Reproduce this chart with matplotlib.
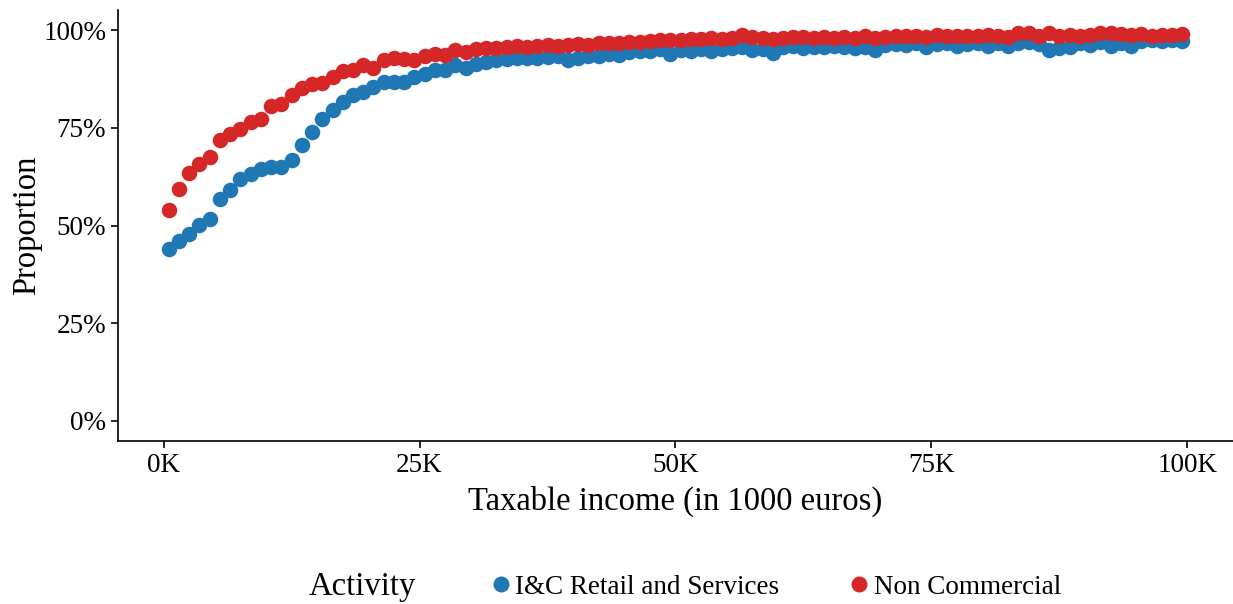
import numpy as np
import matplotlib
matplotlib.use("Agg")
import matplotlib.pyplot as plt
from matplotlib.ticker import FuncFormatter
from matplotlib.lines import Line2D

plt.rcParams['font.family'] = ['Liberation Serif', 'DejaVu Serif']

# income bins (in 1000 euros), bin centres
income = np.arange(100) + 0.5

# share per bin, in percent
retail = [43.9, 46.1, 47.8, 50.1, 51.7, 56.7, 59.1, 61.8, 63.1, 64.4,
          64.9, 65.0, 66.9, 70.6, 73.9, 77.2, 79.7, 81.7, 83.4, 84.1,
          85.5, 86.8, 86.7, 86.8, 87.9, 88.7, 89.8, 89.8, 91.0, 90.4,
          91.4, 91.8, 92.4, 92.7, 92.9, 93.0, 92.8, 93.2, 93.4, 92.3,
          93.0, 93.4, 93.5, 94.0, 93.7, 94.3, 94.6, 94.8, 95.2, 93.9,
          95.0, 94.6, 95.1, 94.8, 95.2, 95.4, 95.6, 95.0, 95.3, 94.1,
          95.6, 95.9, 95.5, 95.7, 95.8, 95.9, 95.6, 95.4, 95.8, 94.9,
          96.2, 96.5, 96.3, 96.6, 95.8, 96.4, 96.6, 95.9, 96.5, 96.7,
          96.0, 96.8, 95.9, 96.6, 96.9, 96.5, 95.0, 95.5, 95.8, 96.6,
          96.3, 96.9, 95.9, 96.7, 96.0, 97.2, 97.4, 97.3, 97.5, 97.3]

noncomm = [54.0, 59.3, 63.5, 65.7, 67.6, 71.9, 73.4, 74.6, 76.5, 77.2,
           80.6, 81.1, 83.4, 85.3, 86.2, 86.5, 88.0, 89.6, 89.8, 91.0,
           90.4, 92.3, 93.0, 92.7, 92.3, 93.4, 94.0, 93.6, 94.9, 94.5,
           95.3, 95.5, 95.4, 95.7, 95.9, 95.8, 96.0, 96.1, 95.9, 96.3,
           96.4, 96.3, 96.6, 96.8, 96.7, 97.1, 96.9, 97.2, 97.5, 97.4,
           97.6, 97.8, 97.7, 97.9, 97.8, 98.0, 98.8, 98.2, 97.9, 97.8,
           98.1, 98.3, 98.2, 98.0, 98.3, 98.1, 98.2, 98.0, 98.6, 98.1,
           98.3, 98.4, 98.6, 98.5, 98.2, 98.7, 98.4, 98.5, 98.6, 98.4,
           98.7, 98.5, 98.3, 99.4, 99.3, 98.6, 99.2, 98.5, 98.7, 98.6,
           98.8, 99.3, 99.2, 98.9, 98.7, 99.0, 98.6, 98.8, 98.7, 98.9]

labels = ["I&C Retail and Services", "Non Commercial"]
colors = ["#1f77b4", "#d62728"]

fig = plt.figure(figsize=(12.33, 6.04), dpi=100)
ax = fig.add_axes([0.0957, 0.270, 0.9043, 0.713])

ax.scatter(income, retail, s=125, color=colors[0], linewidths=0, zorder=2)
ax.scatter(income, noncomm, s=125, color=colors[1], linewidths=0, zorder=3)

ax.set_xlim(-4.45, 104.45)
ax.set_ylim(-5.1, 105.1)
ax.set_xticks([0, 25, 50, 75, 100])
ax.set_yticks([0, 25, 50, 75, 100])
ax.xaxis.set_major_formatter(FuncFormatter(lambda v, p: f"{v:.0f}K"))
ax.yaxis.set_major_formatter(FuncFormatter(lambda v, p: f"{v:.0f}%"))
ax.tick_params(labelsize=19.5, length=5, width=1.2, direction='out')

for side in ['top', 'right']:
    ax.spines[side].set_visible(False)
for side in ['left', 'bottom']:
    ax.spines[side].set_linewidth(1.2)

ax.set_xlabel("Taxable income (in 1000 euros)", fontsize=23.5, labelpad=6)
ax.set_ylabel("Proportion", fontsize=23.5, labelpad=1)

# legend laid out horizontally at the bottom
fig.text(0.294, 0.028, "Activity", fontsize=23.5, ha='center', va='center')
handles = [Line2D([], [], marker='o', linestyle='none', markersize=11.5,
                  markerfacecolor=c, markeredgewidth=0) for c in colors]
fig.legend(handles, labels, loc='center', bbox_to_anchor=(0.628, 0.028),
           ncol=2, frameon=False, fontsize=19.5, handletextpad=0.05,
           columnspacing=2.45, handlelength=1.0)

fig.savefig("out.png", dpi=100)
